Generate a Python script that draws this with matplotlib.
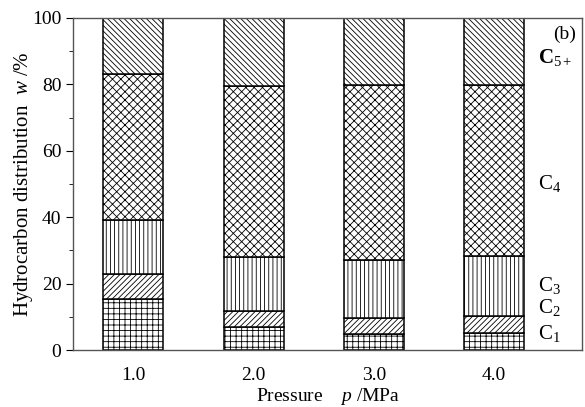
import matplotlib
matplotlib.use('Agg')
import matplotlib.pyplot as plt
import numpy as np
from matplotlib.ticker import MultipleLocator

plt.rcParams['font.family'] = ['Liberation Serif', 'DejaVu Serif']
plt.rcParams['mathtext.fontset'] = 'custom'
plt.rcParams['mathtext.rm'] = 'Liberation Serif'
plt.rcParams['mathtext.it'] = 'Liberation Serif:italic'
plt.rcParams['mathtext.bf'] = 'Liberation Serif:bold'
plt.rcParams['hatch.linewidth'] = 0.6

# data
pressure = [1.0, 2.0, 3.0, 4.0]
tick_labels = ['1.0', '2.0', '3.0', '4.0']
c1 = [15.5, 6.8, 4.8, 5.2]
c2 = [7.3, 5.0, 4.7, 5.0]
c3 = [16.2, 16.2, 17.7, 18.0]
c4 = [44.1, 51.5, 52.7, 51.5]
c5 = [16.9, 20.5, 20.1, 20.3]

series = [c1, c2, c3, c4, c5]
hatches = ['+++', '//////', '||||', 'xxxx', '\\\\\\\\\\\\']
names = ['C$_1$', 'C$_2$', 'C$_3$', 'C$_4$', '$\\mathbf{C}_{5+}$']
label_y = [5, 12.8, 19.5, 50, 88]

fig = plt.figure(figsize=(5.85, 4.07), dpi=100)
ax = fig.add_axes([0.125, 0.14, 0.87, 0.816])

bottom = np.zeros(len(pressure))
for vals, h in zip(series, hatches):
    ax.bar(pressure, vals, width=0.5, bottom=bottom, facecolor='white',
           edgecolor='black', linewidth=1.1, hatch=h)
    bottom += np.array(vals)

ax.set_xlim(0.5, 4.73)
ax.set_ylim(0, 100)
ax.set_xticks(pressure)
ax.set_xticklabels(tick_labels)
ax.yaxis.set_major_locator(MultipleLocator(20))
ax.yaxis.set_minor_locator(MultipleLocator(10))
ax.tick_params(axis='x', length=0, labelsize=14, pad=12)
ax.tick_params(axis='y', which='major', length=5, labelsize=14, direction='out')
ax.tick_params(axis='y', which='minor', length=3, direction='out')
for s in ax.spines.values():
    s.set_color('#555555')
    s.set_linewidth(1.0)

ax.set_xlabel('Pressure    $p$ /MPa', fontsize=14, labelpad=2)
ax.set_ylabel('Hydrocarbon distribution  $w$ /%', fontsize=15, labelpad=-2)

for n, y in zip(names, label_y):
    ax.text(4.36, y, n, fontsize=15, va='center', ha='left')
ax.text(4.68, 95, '(b)', fontsize=14, va='center', ha='right')

fig.savefig('out.png', dpi=100)
